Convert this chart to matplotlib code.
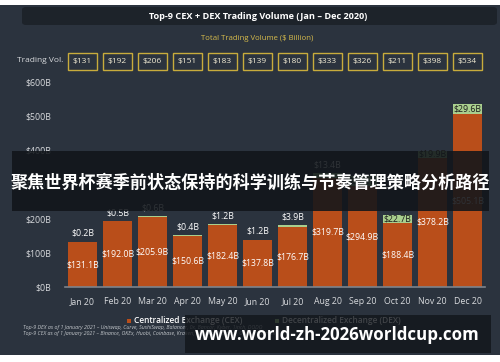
import matplotlib
matplotlib.use("Agg")
import matplotlib.pyplot as plt
import matplotlib.transforms as mtransforms
from matplotlib.patches import Rectangle, FancyBboxPatch

plt.rcParams['font.family'] = ['Open Sans', 'Noto Sans CJK SC', 'DejaVu Sans']

months = ["Jan 20", "Feb 20", "Mar 20", "Apr 20", "May 20", "Jun 20",
          "Jul 20", "Aug 20", "Sep 20", "Oct 20", "Nov 20", "Dec 20"]
cex = [131.1, 192.0, 205.9, 150.6, 182.4, 137.8, 176.7, 319.7, 294.9, 188.4, 378.2, 505.1]
dex = [0.2, 0.5, 0.6, 0.4, 1.2, 1.2, 3.9, 13.4, 31.1, 22.7, 19.9, 29.6]
totals = ["$131", "$192", "$206", "$151", "$183", "$139", "$180", "$333", "$326", "$211", "$398", "$534"]
yticks = [0, 100, 200, 300, 400, 500, 600]
ytick_labels = ["$0B", "$100B", "$200B", "$300B", "$400B", "$500B", "$600B"]

BG = '#2b333e'
ORANGE = '#b94e1a'
GREEN = '#a9cf8e'
YELLOW = '#c8ac3c'
W, H = 500, 362

def fx(px):
    return px / W

def fy(py):
    return (H - py) / H

fig = plt.figure(figsize=(5, 3.62), dpi=100, facecolor='white')
fig.patches.append(Rectangle((0, fy(355)), 1, fy(5) - fy(355), transform=fig.transFigure,
                             facecolor=BG, edgecolor='none', zorder=-10))

ax = fig.add_axes([fx(65), fy(287), fx(485) - fx(65), fy(82) - fy(287)])
ax.set_facecolor('none')
x = list(range(len(months)))
bw = 0.83
ax.bar(x, cex, width=bw, color=ORANGE, zorder=2)
ax.bar(x, dex, width=bw, bottom=cex, color=GREEN, zorder=2)
ax.set_xlim(-0.5, 11.5)
ax.set_ylim(0, 600)
ax.set_yticks(yticks)
ax.set_yticklabels(ytick_labels)
ax.set_xticks(x)
ax.set_xticklabels(months)
ax.tick_params(axis='both', length=0, colors='#d8dadd', labelsize=6.3)
ax.tick_params(axis='y', pad=10)
ax.tick_params(axis='x', pad=7)
for s in ['top', 'right', 'left']:
    ax.spines[s].set_visible(False)
ax.spines['bottom'].set_color('#7d838b')
ax.spines['bottom'].set_linewidth(1.2)

for i in x:
    ax.text(i, cex[i] / 2, f"${cex[i]:.1f}B", ha='center', va='center',
            color='white', fontsize=6.3, zorder=3)
    top = cex[i] + dex[i]
    if dex[i] >= 19:
        ax.text(i, cex[i] + dex[i] / 2, f"${dex[i]:.1f}B", ha='center', va='center',
                color='#1a1a1a', fontsize=6.3, zorder=3)
    else:
        ax.annotate(f"${dex[i]:.1f}B", (i, top), xytext=(0, 3), textcoords='offset points',
                    ha='center', va='bottom', color='white', fontsize=6.3, zorder=3)

# Trading volume boxes
bt = mtransforms.blended_transform_factory(ax.transData, fig.transFigure)
for i in x:
    ax.add_patch(Rectangle((i - bw / 2, fy(69.5)), bw, fy(52.5) - fy(69.5), transform=bt,
                           facecolor='none', edgecolor=YELLOW, linewidth=1.0, clip_on=False))
    ax.text(i, fy(61), totals[i], transform=bt, ha='center', va='center',
            color='#f2ecd4', fontsize=6.0, clip_on=False)
fig.text(fx(63), fy(61), "Trading Vol.", ha='right', va='center', color='#d8dadd', fontsize=6.0)

# Title box
fig.patches.append(FancyBboxPatch((fx(22), fy(25)), fx(497) - fx(22), fy(7) - fy(25),
                                  boxstyle="round,pad=0,rounding_size=0.008",
                                  transform=fig.transFigure, facecolor='#1d232a',
                                  edgecolor='none', zorder=-5))
fig.text(fx(258), fy(16), "Top-9 CEX + DEX Trading Volume (Jan – Dec 2020)", ha='center',
         va='center', color='white', fontsize=6.6, fontweight='bold')
fig.text(fx(257), fy(38), "Total Trading Volume ($ Billion)", ha='center', va='center',
         color='#d6bb4c', fontsize=5.6)

# Legend
fig.patches.append(Rectangle((fx(127), fy(323)), fx(4), fy(0) - fy(4), transform=fig.transFigure,
                             facecolor=ORANGE, edgecolor='none'))
fig.text(fx(134), fy(320.5), "Centralized Exchange (CEX)", ha='left', va='center',
         color='white', fontsize=6.0, fontweight='semibold')
fig.patches.append(Rectangle((fx(275), fy(323)), fx(4), fy(0) - fy(4), transform=fig.transFigure,
                             facecolor=GREEN, edgecolor='none'))
fig.text(fx(282), fy(320.5), "Decentralized Exchange (DEX)", ha='left', va='center',
         color='white', fontsize=6.0, fontweight='semibold')

# Footnotes
fig.text(fx(23), fy(328), "Top-9 DEX as of 1 January 2021 – Uniswap, Curve, SushiSwap, Balancer, 0x, Bancor, Kyber, 1inch, DODO",
         ha='left', va='center', color='#c4c8cc', fontsize=3.8, style='italic')
fig.text(fx(23), fy(334), "Top-9 CEX as of 1 January 2021 – Binance, OKEx, Huobi, Coinbase, Kraken, Bitfinex, Bitstamp, Gate.io, Gemini",
         ha='left', va='center', color='#c4c8cc', fontsize=3.8, style='italic')

# Overlay banner
fig.patches.append(Rectangle((fx(12), fy(211)), fx(489) - fx(12), fy(151) - fy(211),
                             transform=fig.transFigure, facecolor='#11151a', alpha=0.88,
                             edgecolor='none', zorder=10))
fig.text(fx(250.5), fy(183), "聚焦世界杯赛季前状态保持的科学训练与节奏管理策略分析路径",
         ha='center', va='center', color='white', fontsize=12.3, fontweight='bold',
         family=['Noto Sans CJK SC', 'DejaVu Sans'], zorder=11)

# Bottom watermark
fig.patches.append(Rectangle((fx(185), fy(353)), fx(491) - fx(185), fy(315) - fy(353),
                             transform=fig.transFigure, facecolor='#11151a', alpha=0.8,
                             edgecolor='none', zorder=10))
fig.text(fx(337), fy(335), "www.world-zh-2026worldcup.com", ha='center', va='center',
         color='white', fontsize=12.2, fontweight='bold', zorder=11)

fig.savefig("out.png", dpi=100, facecolor='white')
